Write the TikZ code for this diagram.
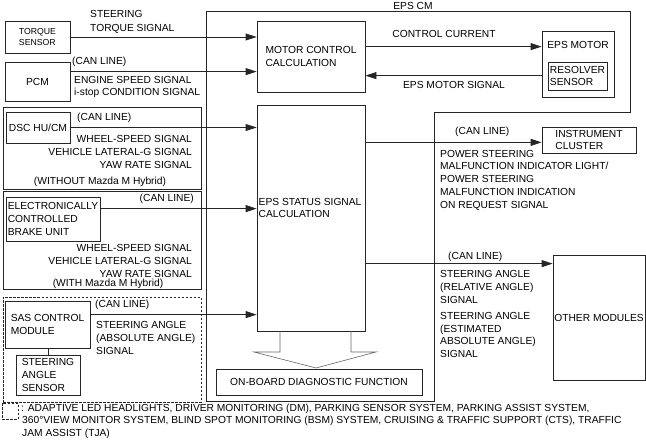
\documentclass[tikz,border=0pt]{standalone}
\usepackage{fontspec}
\setmainfont{Liberation Sans}
\usetikzlibrary{arrows.meta}
\newcommand\fs{\fontsize{10.25}{12.7}\selectfont}
\newcommand\fss{\fontsize{8.7}{10.6}\selectfont}
\newcommand\mybox[7][]{\node[box,minimum width={#5-#3},minimum height={#6-#4},#1] (#2) at ({(#3+#5)/2},{(#4+#6)/2}) {#7};}
\begin{document}
\begin{tikzpicture}[x=1pt,y=-1pt,
 ln/.style={draw=black!85, line width=0.8pt},
 box/.style={ln, rectangle, inner sep=0pt, font=\fs, align=left},
 txt/.style={inner sep=0pt, font=\fs},
 arr/.style={line width=0.8pt, draw=black!85, -{Triangle[length=11pt,width=7pt]}},
 dsh/.style={draw=black!85, line width=0.8pt, dash pattern=on 2.5pt off 1.5pt},
 blk/.style={draw=black!60, line width=0.6pt},
]
\useasboundingbox (0,0) rectangle (646,441);

% EPS CM outline
\draw[ln] (206,401) -- (206,11) -- (630,11) -- (630,112) -- (434,112) -- (434,401) -- cycle;
\node[txt] (epscm) at (413,6) {EPS CM};

% boxes
\mybox[font=\fss]{ts}{5}{21}{70}{53}{TORQUE\\SENSOR}
\mybox{pcm}{5}{62}{70}{101}{PCM}
\mybox{mc}{257}{21}{365}{92}{MOTOR CONTROL\\CALCULATION}
\mybox{motor}{542}{31}{614}{97}{}
\node[txt] (motort) at (578,45) {EPS MOTOR};
\mybox{res}{548}{62}{607}{90}{RESOLVER\\SENSOR}

\mybox{dscg}{3}{107}{201}{189}{}
\mybox{dsc}{6}{112}{70}{143}{DSC HU/CM}
\mybox{brakeg}{3}{191}{201}{289}{}
\mybox{brake}{6}{197}{100}{241}{ELECTRONICALLY\\CONTROLLED\\BRAKE UNIT}
\mybox[dsh]{sasg}{3}{297}{201}{402}{}
\mybox{sas}{5}{301}{90}{348}{SAS CONTROL\\MODULE}
\mybox{sensor}{16}{355}{80}{395}{STEERING\\ANGLE\\SENSOR}

\mybox{status}{257}{105}{365}{331}{}
\node[txt,anchor=west,align=left] (statust) at (258.5,208) {EPS STATUS SIGNAL\\CALCULATION};
\mybox{obd}{216}{369}{422}{395}{ON-BOARD DIAGNOSTIC FUNCTION}
\mybox{ic}{542}{127}{636}{153}{INSTRUMENT\\CLUSTER}
\mybox{om}{553}{255}{645}{380}{OTHER MODULES}
\mybox[dsh]{leg}{2}{403}{18}{419}{}

% connectors
\draw[arr] (ts.east) -- (ts.east -| mc.west);
\path (pcm.north east) ++(0,10) coordinate (p1);
\draw[arr] (p1) -- (p1 -| mc.west);
\path (mc.north east) ++(0,26) coordinate (p2);
\draw[arr] (p2) -- (p2 -| motor.west);
\path (motor.north west) ++(0,45) coordinate (p3);
\draw[arr] (p3) -- (p3 -| mc.east);
\draw[arr] (dsc.east) -- (dsc.east -| status.west);
\path (brake.north east) ++(0,12) coordinate (p4);
\draw[arr] (p4) -- (p4 -| status.west);
\path (sas.north east) ++(0,14) coordinate (p5);
\draw[arr] (p5) -- (p5 -| status.west);
\path (ic.south west) ++(0,-11) coordinate (p6);
\draw[arr] (p6 -| status.east) -- (p6);
\path (om.north west) ++(0,9) coordinate (p7);
\draw[arr] (p7 -| status.east) -- (p7);
\draw[ln] (sensor.north) -- (sensor.north |- sas.south);

% block arrow status -> obd
\draw[blk] (280,331) -- (280,352) -- (254,352) -- (316,368) -- (376,352) -- (351,352) -- (351,331);

% labels
\node[txt,anchor=west,align=left] (l1) at (90,22) {STEERING\\[1pt]TORQUE SIGNAL};
\node[txt,anchor=west] (l2) at (72,62) {(CAN LINE)};
\node[txt,anchor=west,align=left] (l3) at (74,87) {ENGINE SPEED SIGNAL\\i-stop CONDITION SIGNAL};
\node[txt] (l4) at (444,34) {CONTROL CURRENT};
\node[txt] (l5) at (454,85) {EPS MOTOR SIGNAL};
\node[txt,anchor=west] (l6) at (77,118) {(CAN LINE)};
\node[txt,anchor=east,align=right] (l7) at (192,152) {WHEEL-SPEED SIGNAL\\VEHICLE LATERAL-G SIGNAL\\YAW RATE SIGNAL};
\node[txt] (l8) at (100,182) {(WITHOUT Mazda M Hybrid)};
\node[txt,anchor=east] (l9) at (194,199) {(CAN LINE)};
\node[txt,anchor=east,align=right] (l10) at (192,261) {WHEEL-SPEED SIGNAL\\VEHICLE LATERAL-G SIGNAL\\YAW RATE SIGNAL};
\node[txt] (l11) at (108,284) {(WITH Mazda M Hybrid)};
\node[txt,anchor=west] (l12) at (95,305) {(CAN LINE)};
\node[txt,anchor=west,align=left] (l13) at (96,338) {STEERING ANGLE\\(ABSOLUTE ANGLE)\\SIGNAL};
\node[txt,anchor=west] (l14) at (455,132) {(CAN LINE)};
\node[txt,anchor=west,align=left] (l15) at (440,180) {POWER STEERING\\MALFUNCTION INDICATOR LIGHT/\\POWER STEERING\\MALFUNCTION INDICATION\\ON REQUEST SIGNAL};
\node[txt,anchor=west] (l16) at (448,257) {(CAN LINE)};
\node[txt,anchor=west,align=left] (l17) at (440,287) {STEERING ANGLE\\(RELATIVE ANGLE)\\SIGNAL};
\node[txt,anchor=west,align=left] (l18) at (440,335) {STEERING ANGLE\\(ESTIMATED\\ABSOLUTE ANGLE)\\SIGNAL};
\node[txt,anchor=west] (g1) at (21,409) {: ADAPTIVE LED HEADLIGHTS, DRIVER MONITORING (DM), PARKING SENSOR SYSTEM, PARKING ASSIST SYSTEM,};
\node[txt,anchor=west] (g2) at (22,421) {360°VIEW MONITOR SYSTEM, BLIND SPOT MONITORING (BSM) SYSTEM, CRUISING \& TRAFFIC SUPPORT (CTS), TRAFFIC};
\node[txt,anchor=west] (g3) at (22,434) {JAM ASSIST (TJA)};
\end{tikzpicture}
\end{document}
